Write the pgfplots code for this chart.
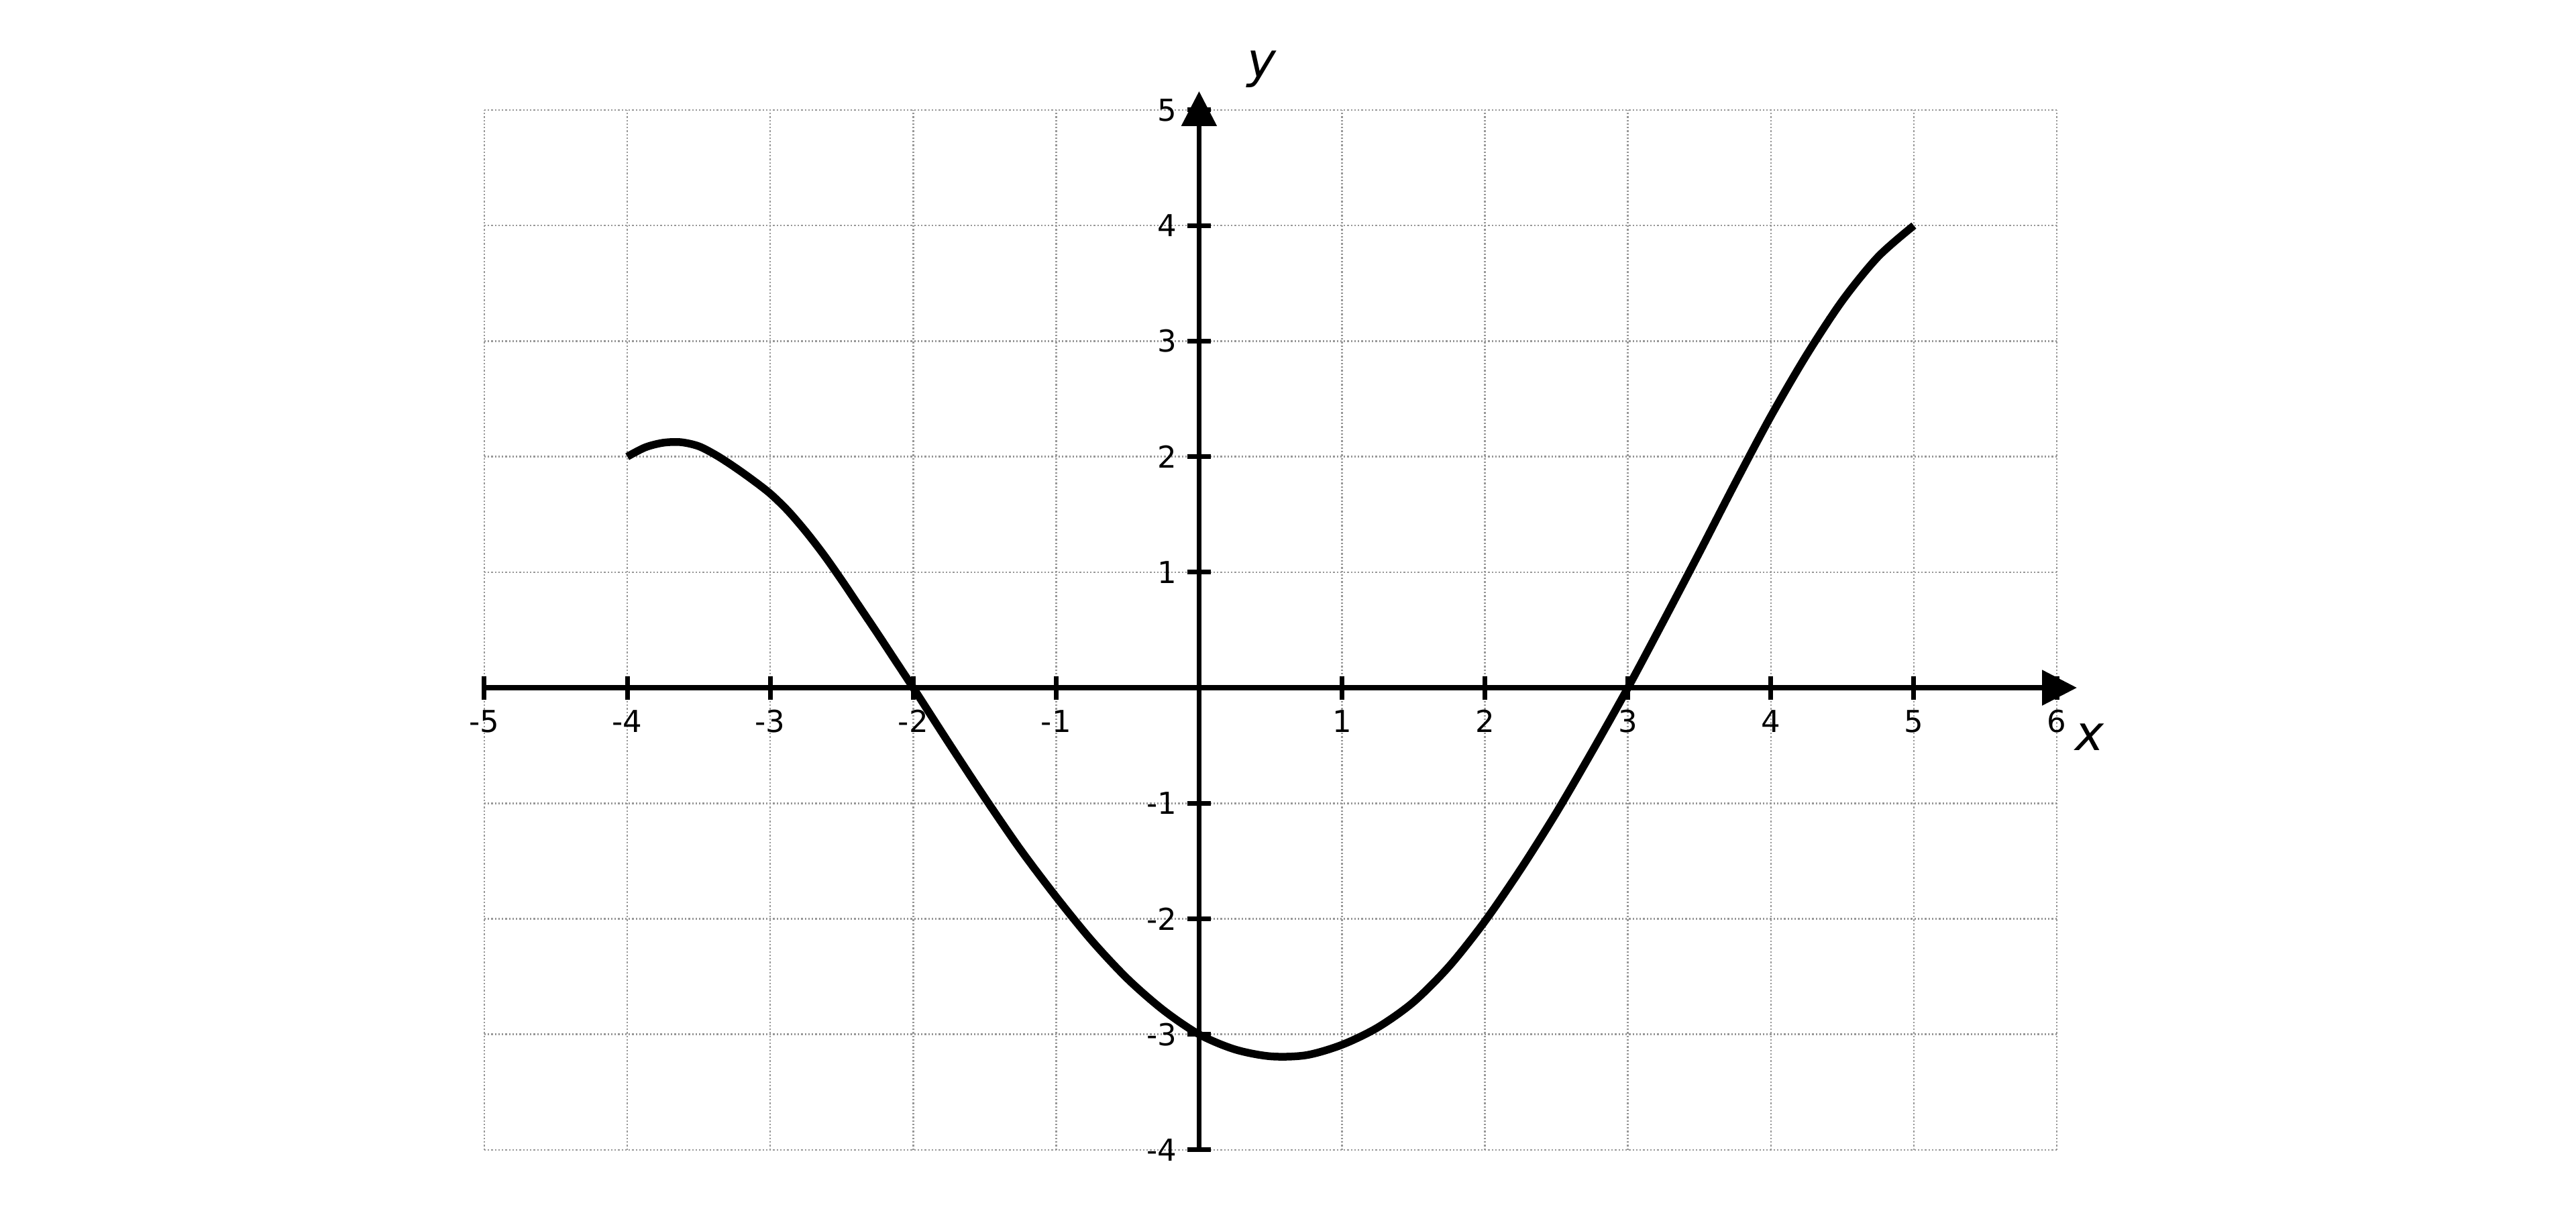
\documentclass[border=0pt]{standalone}
\usepackage{fontspec}
\setmainfont{DejaVu Sans}
\usepackage{pgfplots}
\pgfplotsset{compat=1.18}
\usetikzlibrary{arrows.meta}

\definecolor{gridgray}{RGB}{150,150,150}

\begin{document}
\fontsize{9}{11}\selectfont
\begin{tikzpicture}
\begin{axis}[
    scale only axis,
    width=468.8pt, height=310pt,
    xmin=-5, xmax=6, ymin=-4, ymax=5,
    enlargelimits=false,
    axis lines=middle,
    axis line style={line width=1.5pt, black},
    x axis line style={-{Triangle[width=10.3pt,length=10.4pt]}, shorten >=-6pt},
    y axis line style={-{Triangle[width=10.3pt,length=10.4pt]}, shorten >=-5.6pt},
    xtick={-5,-4,-3,-2,-1,1,2,3,4,5,6},
    xticklabels={-5,-4,-3,-2,-1,1,2,3,4,5,6},
    ytick={-4,-3,-2,-1,1,2,3,4,5},
    yticklabels={-4,-3,-2,-1,1,2,3,4,5},
    tick align=center,
    major tick length=7pt,
    every tick/.style={line width=1.4pt, black},
    every tick label/.append style={font=\fontsize{9}{11}\selectfont},
    xticklabel style={anchor=north},
    yticklabel style={anchor=east},
    grid=major,
    grid style={line width=0.5pt, gridgray, dash pattern=on 0.45pt off 0.6pt},
    xlabel={\fontsize{14.5}{17}\selectfont\itshape x},
    ylabel={\fontsize{14.5}{17}\selectfont\itshape y},
    xlabel style={at={(rel axis cs:1,0.4444)}, anchor=center, xshift=9.8pt, yshift=-14.8pt},
    ylabel style={at={(rel axis cs:0.4545,1)}, anchor=center, xshift=18.8pt, yshift=12.2pt},
]
\addplot[black, line width=2.3pt, smooth, line join=round] coordinates {
(-4.00,2.00) (-3.875,2.08) (-3.75,2.12) (-3.625,2.125) (-3.50,2.09)
(-3.375,2.01) (-3.25,1.91) (-3.125,1.80) (-3.00,1.68) (-2.875,1.53)
(-2.75,1.35) (-2.625,1.15) (-2.50,0.93) (-2.375,0.70) (-2.25,0.47)
(-2.125,0.235) (-2.00,0.00)
(-1.75,-0.48) (-1.50,-0.95) (-1.25,-1.40) (-1.00,-1.81) (-0.75,-2.19)
(-0.50,-2.52) (-0.25,-2.79) (0.00,-3.00) (0.25,-3.13) (0.50,-3.19)
(0.75,-3.18) (1.00,-3.09) (1.25,-2.94) (1.50,-2.72) (1.75,-2.41)
(2.00,-2.02) (2.25,-1.57) (2.50,-1.08) (2.75,-0.55) (3.00,0.00)
(3.25,0.58) (3.50,1.17) (3.75,1.77) (4.00,2.35) (4.25,2.88)
(4.50,3.35) (4.75,3.73) (5.00,4.00)
};
\coordinate (bl) at (rel axis cs:0,0);
\coordinate (tr) at (rel axis cs:1,1);
\end{axis}
\path ([xshift=-144.4pt,yshift=-18.2pt]bl) rectangle ([xshift=154.8pt,yshift=32.8pt]tr);
\end{tikzpicture}
\end{document}
